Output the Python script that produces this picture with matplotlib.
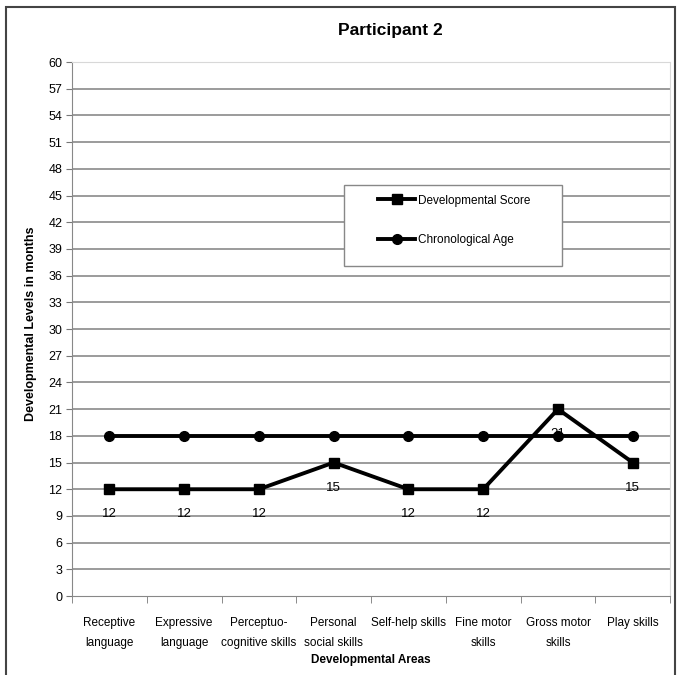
import matplotlib.pyplot as plt
from matplotlib.patches import Rectangle
import numpy as np

areas = ['Receptive\nlanguage', 'Expressive\nlanguage', 'Perceptuo-\ncognitive skills',
         'Personal\nsocial skills', 'Self-help skills', 'Fine motor\nskills',
         'Gross motor\nskills', 'Play skills']
dev_score = [12, 12, 12, 15, 12, 12, 21, 15]
chrono_age = [18, 18, 18, 18, 18, 18, 18, 18]
yticks = list(range(0, 61, 3))

plt.rcParams['font.family'] = ['Liberation Sans', 'DejaVu Sans']

fig = plt.figure(figsize=(6.79, 6.75), dpi=100)
ax = fig.add_axes([0.106, 0.117, 0.881, 0.791])

x = np.arange(len(areas))
ax.plot(x, dev_score, color='black', lw=2.8, marker='s', ms=7, label='Developmental Score', zorder=4)
ax.plot(x, chrono_age, color='black', lw=2.8, marker='o', ms=7, label='Chronological Age', zorder=4)

for xi, v in zip(x, dev_score):
    ax.annotate(str(v), (xi, v), xytext=(0, -18), textcoords='offset points',
                ha='center', va='center', fontsize=9.5, zorder=5)

ax.set_xlim(-0.5, len(areas) - 0.5)
ax.set_ylim(0, 60)
ax.set_yticks(yticks)
ax.set_yticklabels([str(t) for t in yticks], fontsize=9)
for t in yticks:
    if t == 60:
        ax.axhline(t, color='#d8d8d8', lw=1.2, zorder=1)
    elif t > 0:
        ax.axhline(t, color='#939393', lw=1.3, zorder=1)

ax.set_xticks(x)
ax.set_xticklabels(areas, fontsize=8.5, linespacing=1.95)
ax.set_xticks(np.arange(-0.5, len(areas)), minor=True)
ax.tick_params(axis='x', which='major', length=0, pad=15)
ax.tick_params(axis='x', which='minor', length=5, color='#777777')
ax.tick_params(axis='y', length=4, color='#777777', pad=3)

for side in ['top', 'right']:
    ax.spines[side].set_color('#d8d8d8')
ax.spines['left'].set_color('#888888')
ax.spines['bottom'].set_color('#888888')

ax.set_xlabel('Developmental Areas', fontsize=8.5, fontweight='bold', labelpad=3.5)
ax.set_ylabel('Developmental Levels in months', fontsize=9, fontweight='bold')
ax.yaxis.set_label_coords(-0.058, 0.51)
fig.text(0.575, 0.955, 'Participant 2', ha='center', va='center', fontsize=12.5, fontweight='bold')

# legend frame drawn separately so the entries sit centred inside it
ax.add_patch(Rectangle((0.455, 0.618), 0.364, 0.152, transform=ax.transAxes,
                       facecolor='white', edgecolor='#888888', lw=1.0, zorder=6))
leg = ax.legend(loc='upper left', bbox_to_anchor=(0.512, 0.752), frameon=False,
                fontsize=8.5, handlelength=3.1, labelspacing=2.3,
                borderpad=0, handletextpad=0.25, borderaxespad=0)
leg.set_zorder(7)

# outer chart border
fig.patches.append(Rectangle((0.009, -0.01), 0.985, 1.0, transform=fig.transFigure,
                             fill=False, edgecolor='#444444', lw=1.5))

fig.savefig('out.png', dpi=100)
